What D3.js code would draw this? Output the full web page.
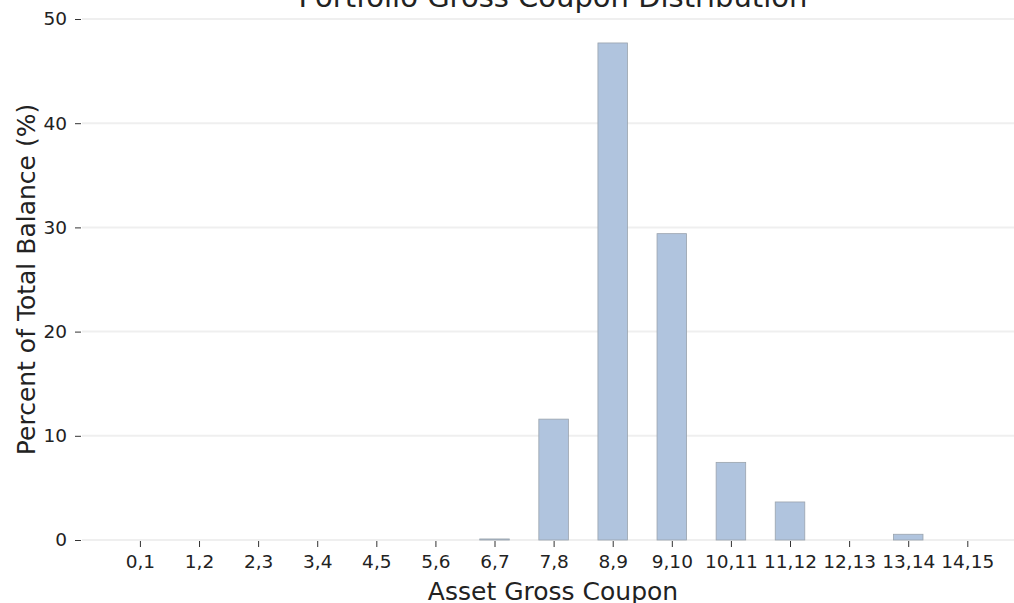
<!DOCTYPE html>
<html>
<head>
<meta charset="utf-8">
<script src="https://cdn.jsdelivr.net/npm/d3@7"></script>
<style>
  html, body { margin: 0; padding: 0; background: #fff; }
  svg { display: block; font-family: "DejaVu Sans", sans-serif; }
</style>
</head>
<body>
<svg id="chart" width="1014" height="603"></svg>
<script>
const categories = ["0,1","1,2","2,3","3,4","4,5","5,6","6,7","7,8","8,9","9,10","10,11","11,12","12,13","13,14","14,15"];
const values = [0, 0, 0, 0, 0, 0, 0.1, 11.6, 47.7, 29.4, 7.45, 3.65, 0, 0.55, 0];
const yTicks = [0, 10, 20, 30, 40, 50];

(function () {
const svg = d3.select("#chart");
const pLeft = 82, pRight = 1014, pTop = 19, pBottom = 540;

const x = d3.scaleLinear().domain([-0.98, 14.79]).range([pLeft, pRight]);
const y = d3.scaleLinear().domain([0, 50]).range([pBottom, pTop]);
const barW = (x(1) - x(0)) * 0.5;

// gridlines
svg.append("g").selectAll("line").data(yTicks).join("line")
  .attr("x1", pLeft).attr("x2", pRight)
  .attr("y1", d => y(d)).attr("y2", d => y(d))
  .attr("stroke", "#efefef").attr("stroke-width", 2);

// bars
svg.append("g").selectAll("rect").data(values).join("rect")
  .attr("x", (d, i) => x(i) - barW / 2)
  .attr("width", barW)
  .attr("y", d => y(d))
  .attr("height", d => Math.max(0, y(0) - y(d)))
  .attr("fill", "#b0c4de")
  .attr("stroke", "#9aa3ad")
  .attr("stroke-width", 0.8);

// y axis
const yAxis = d3.axisLeft(y).tickValues(yTicks).tickSize(6).tickPadding(8);
const gy = svg.append("g").attr("transform", `translate(${pLeft - 1},0)`).call(yAxis);
gy.select(".domain").remove();
gy.selectAll(".tick line").attr("stroke", "#333");
gy.selectAll(".tick text").attr("font-size", 18.5).attr("fill", "#222")
  .attr("font-family", "DejaVu Sans, sans-serif");

// x axis
const xAxis = d3.axisBottom(x).tickValues(d3.range(categories.length))
  .tickFormat(i => categories[i]).tickSize(6).tickPadding(8);
const gx = svg.append("g").attr("transform", `translate(0,${pBottom + 1})`).call(xAxis);
gx.select(".domain").remove();
gx.selectAll(".tick line").attr("stroke", "#333");
gx.selectAll(".tick text").attr("font-size", 18.5).attr("fill", "#222")
  .attr("font-family", "DejaVu Sans, sans-serif");

// title
svg.append("text").attr("x", 553).attr("y", 7).attr("text-anchor", "middle")
  .attr("font-size", 29).attr("fill", "#222").text("Portfolio Gross Coupon Distribution");

// x label
svg.append("text").attr("x", 553).attr("y", 600).attr("text-anchor", "middle")
  .attr("font-size", 25).attr("fill", "#222").text("Asset Gross Coupon");

// y label
svg.append("text").attr("transform", `translate(35,${(pTop + pBottom) / 2}) rotate(-90)`)
  .attr("text-anchor", "middle").attr("font-size", 25).attr("fill", "#222")
  .text("Percent of Total Balance (%)");
})();
</script>
</body>
</html>
